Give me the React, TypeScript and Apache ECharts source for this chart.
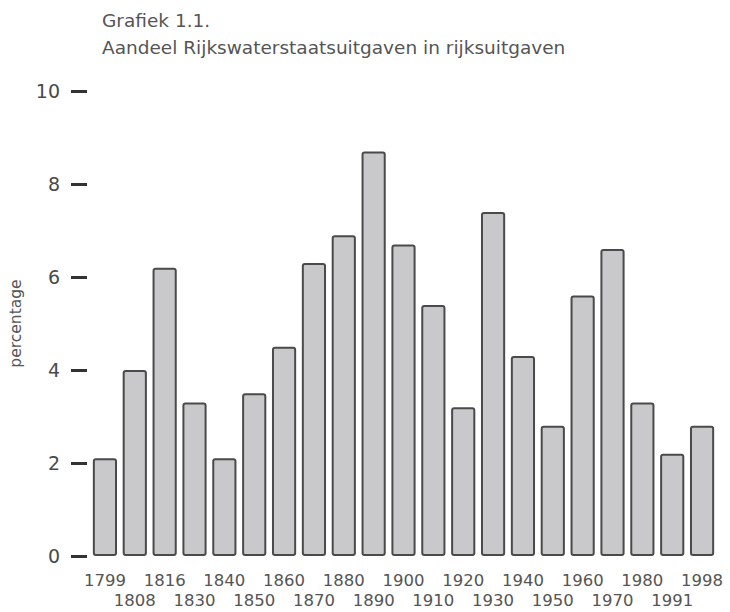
import React, { useEffect, useRef } from "react";
import * as echarts from "echarts";

const years = ["1799","1808","1816","1830","1840","1850","1860","1870","1880","1890","1900","1910","1920","1930","1940","1950","1960","1970","1980","1991","1998"];
const shares = [2.1, 4.0, 6.2, 3.3, 2.1, 3.5, 4.5, 6.3, 6.9, 8.7, 6.7, 5.4, 3.2, 7.4, 4.3, 2.8, 5.6, 6.6, 3.3, 2.2, 2.8];
const yTicks = [0, 2, 4, 6, 8, 10];
const titleLines = ["Grafiek 1.1.", "Aandeel Rijkswaterstaatsuitgaven in rijksuitgaven"];
const yName = "percentage";

const FONT = "'DejaVu Sans', 'Open Sans', sans-serif";

export default function App() {
  const ref = useRef<HTMLDivElement>(null);
  useEffect(() => {
    document.body.style.margin = "0";
    const chart = echarts.init(ref.current!, null, { renderer: "svg" });
    chart.setOption({
      animation: false,
      backgroundColor: "#ffffff",
      title: {
        text: titleLines.join("\n"),
        left: 97,
        top: 2,
        textStyle: { fontFamily: FONT, fontSize: 18.5, fontWeight: "normal", color: "#555", lineHeight: 27 },
      },
      grid: { left: 89, right: 13, top: 91, bottom: 56, containLabel: false },
      xAxis: {
        type: "category",
        data: years,
        axisLine: { show: false },
        axisTick: { show: false },
        axisLabel: {
          interval: 0,
          margin: 14,
          fontFamily: FONT,
          fontSize: 16.5,
          color: "#555",
          lineHeight: 20,
          formatter: (v: string, i: number) => (i % 2 === 0 ? v : "\n" + v),
        },
      },
      yAxis: {
        type: "value",
        min: yTicks[0],
        max: yTicks[yTicks.length - 1],
        interval: 2,
        offset: 3,
        name: yName,
        nameLocation: "middle",
        nameRotate: 90,
        nameGap: 63,
        nameTextStyle: { fontFamily: FONT, fontSize: 15.5, color: "#555" },
        axisLine: { show: false },
        axisTick: { show: true, length: 16, lineStyle: { color: "#333", width: 3 } },
        splitLine: { show: false },
        axisLabel: { margin: 27, fontFamily: FONT, fontSize: 19, color: "#4a4a4a" },
      },
      series: [
        {
          type: "bar",
          data: shares,
          barCategoryGap: "19%",
          itemStyle: { color: "#c9c9cb", borderColor: "#4a4a4a", borderWidth: 2, borderRadius: 2 },
        },
      ],
    });
    return () => chart.dispose();
  }, []);
  return <div ref={ref} style={{ position: "absolute", left: 0, top: 0, width: 730, height: 612 }} />;
}
